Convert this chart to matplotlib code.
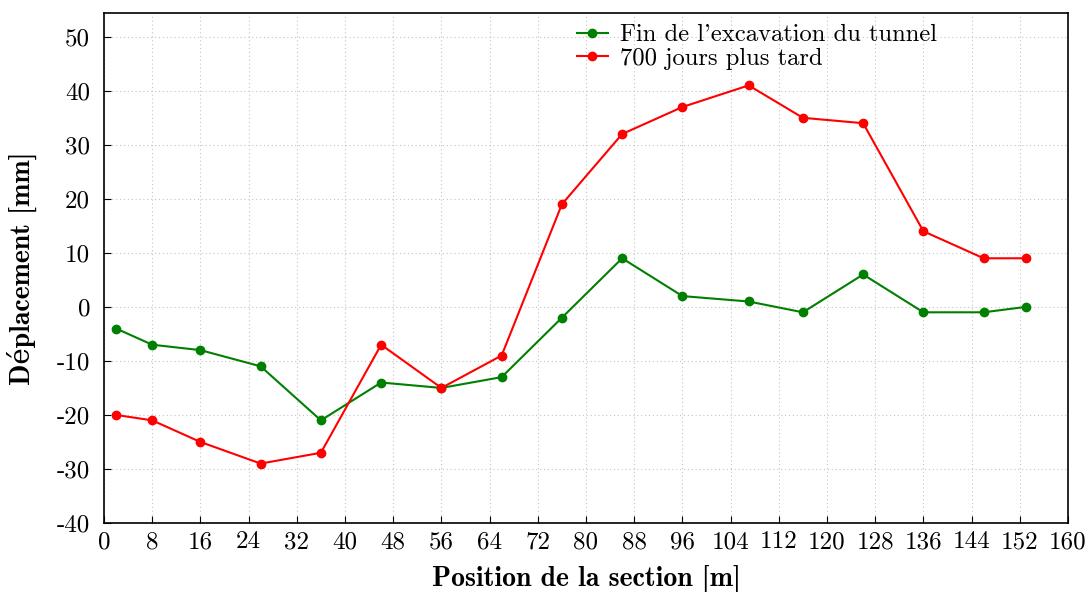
import matplotlib
matplotlib.use("Agg")
import matplotlib.pyplot as plt
from matplotlib.ticker import MultipleLocator, FuncFormatter

plt.rcParams['font.family'] = ['cmr10', 'DejaVu Serif']
plt.rcParams['axes.unicode_minus'] = False
plt.rcParams['axes.formatter.use_mathtext'] = False

positions = [2, 8, 16, 26, 36, 46, 56, 66, 76, 86, 96, 107, 116, 126, 136, 146, 153]
fin_excavation = [-4, -7, -8, -11, -21, -14, -15, -13, -2, 9, 2, 1, -1, 6, -1, -1, 0]
jours_700 = [-20, -21, -25, -29, -27, -7, -15, -9, 19, 32, 37, 41, 35, 34, 14, 9, 9]
label_fin = "Fin de l'excavation du tunnel"
label_700 = "700 jours plus tard"
xlabel = "Position de la section [m]"
ylabel = "Déplacement [mm]"

fig = plt.figure(figsize=(10.86, 5.92), dpi=100)
ax = fig.add_axes([104/1086, 69/592, 964/1086, 510/592])

ax.plot(positions, fin_excavation, color='#008000', lw=1.5, marker='o', ms=6, label=label_fin)
ax.plot(positions, jours_700, color='#ff0000', lw=1.5, marker='o', ms=6, label=label_700)

ax.set_xlim(0, 160)
ax.set_ylim(-40, 54.4)
ax.xaxis.set_major_locator(MultipleLocator(8))
ax.yaxis.set_major_locator(MultipleLocator(10))
fmt = FuncFormatter(lambda v, p: str(int(round(v))))
ax.xaxis.set_major_formatter(fmt)
ax.yaxis.set_major_formatter(fmt)
ax.grid(True, color='#c4c4c4', linestyle=(0, (1, 2.5)), lw=0.8)
ax.tick_params(direction='in', length=5, width=0.8, labelsize=18, top=False, right=False)
ax.tick_params(axis='x', pad=6)
ax.tick_params(axis='y', pad=10)
for s in ax.spines.values():
    s.set_linewidth(1.2)

ax.set_xlabel(xlabel, fontsize=20, fontfamily=['cmb10', 'DejaVu Serif'], labelpad=8)
ax.set_ylabel(ylabel, fontsize=20, fontfamily=['cmb10', 'DejaVu Serif'], labelpad=14)

leg = ax.legend(loc='upper left', bbox_to_anchor=((572 - 104) / 964, 1.0 - 6 / 510), frameon=False,
                fontsize=17.7, handlelength=1.25, handletextpad=0.5, borderaxespad=0.0,
                borderpad=0.2, labelspacing=0.05)

fig.savefig('out.png', dpi=100)
